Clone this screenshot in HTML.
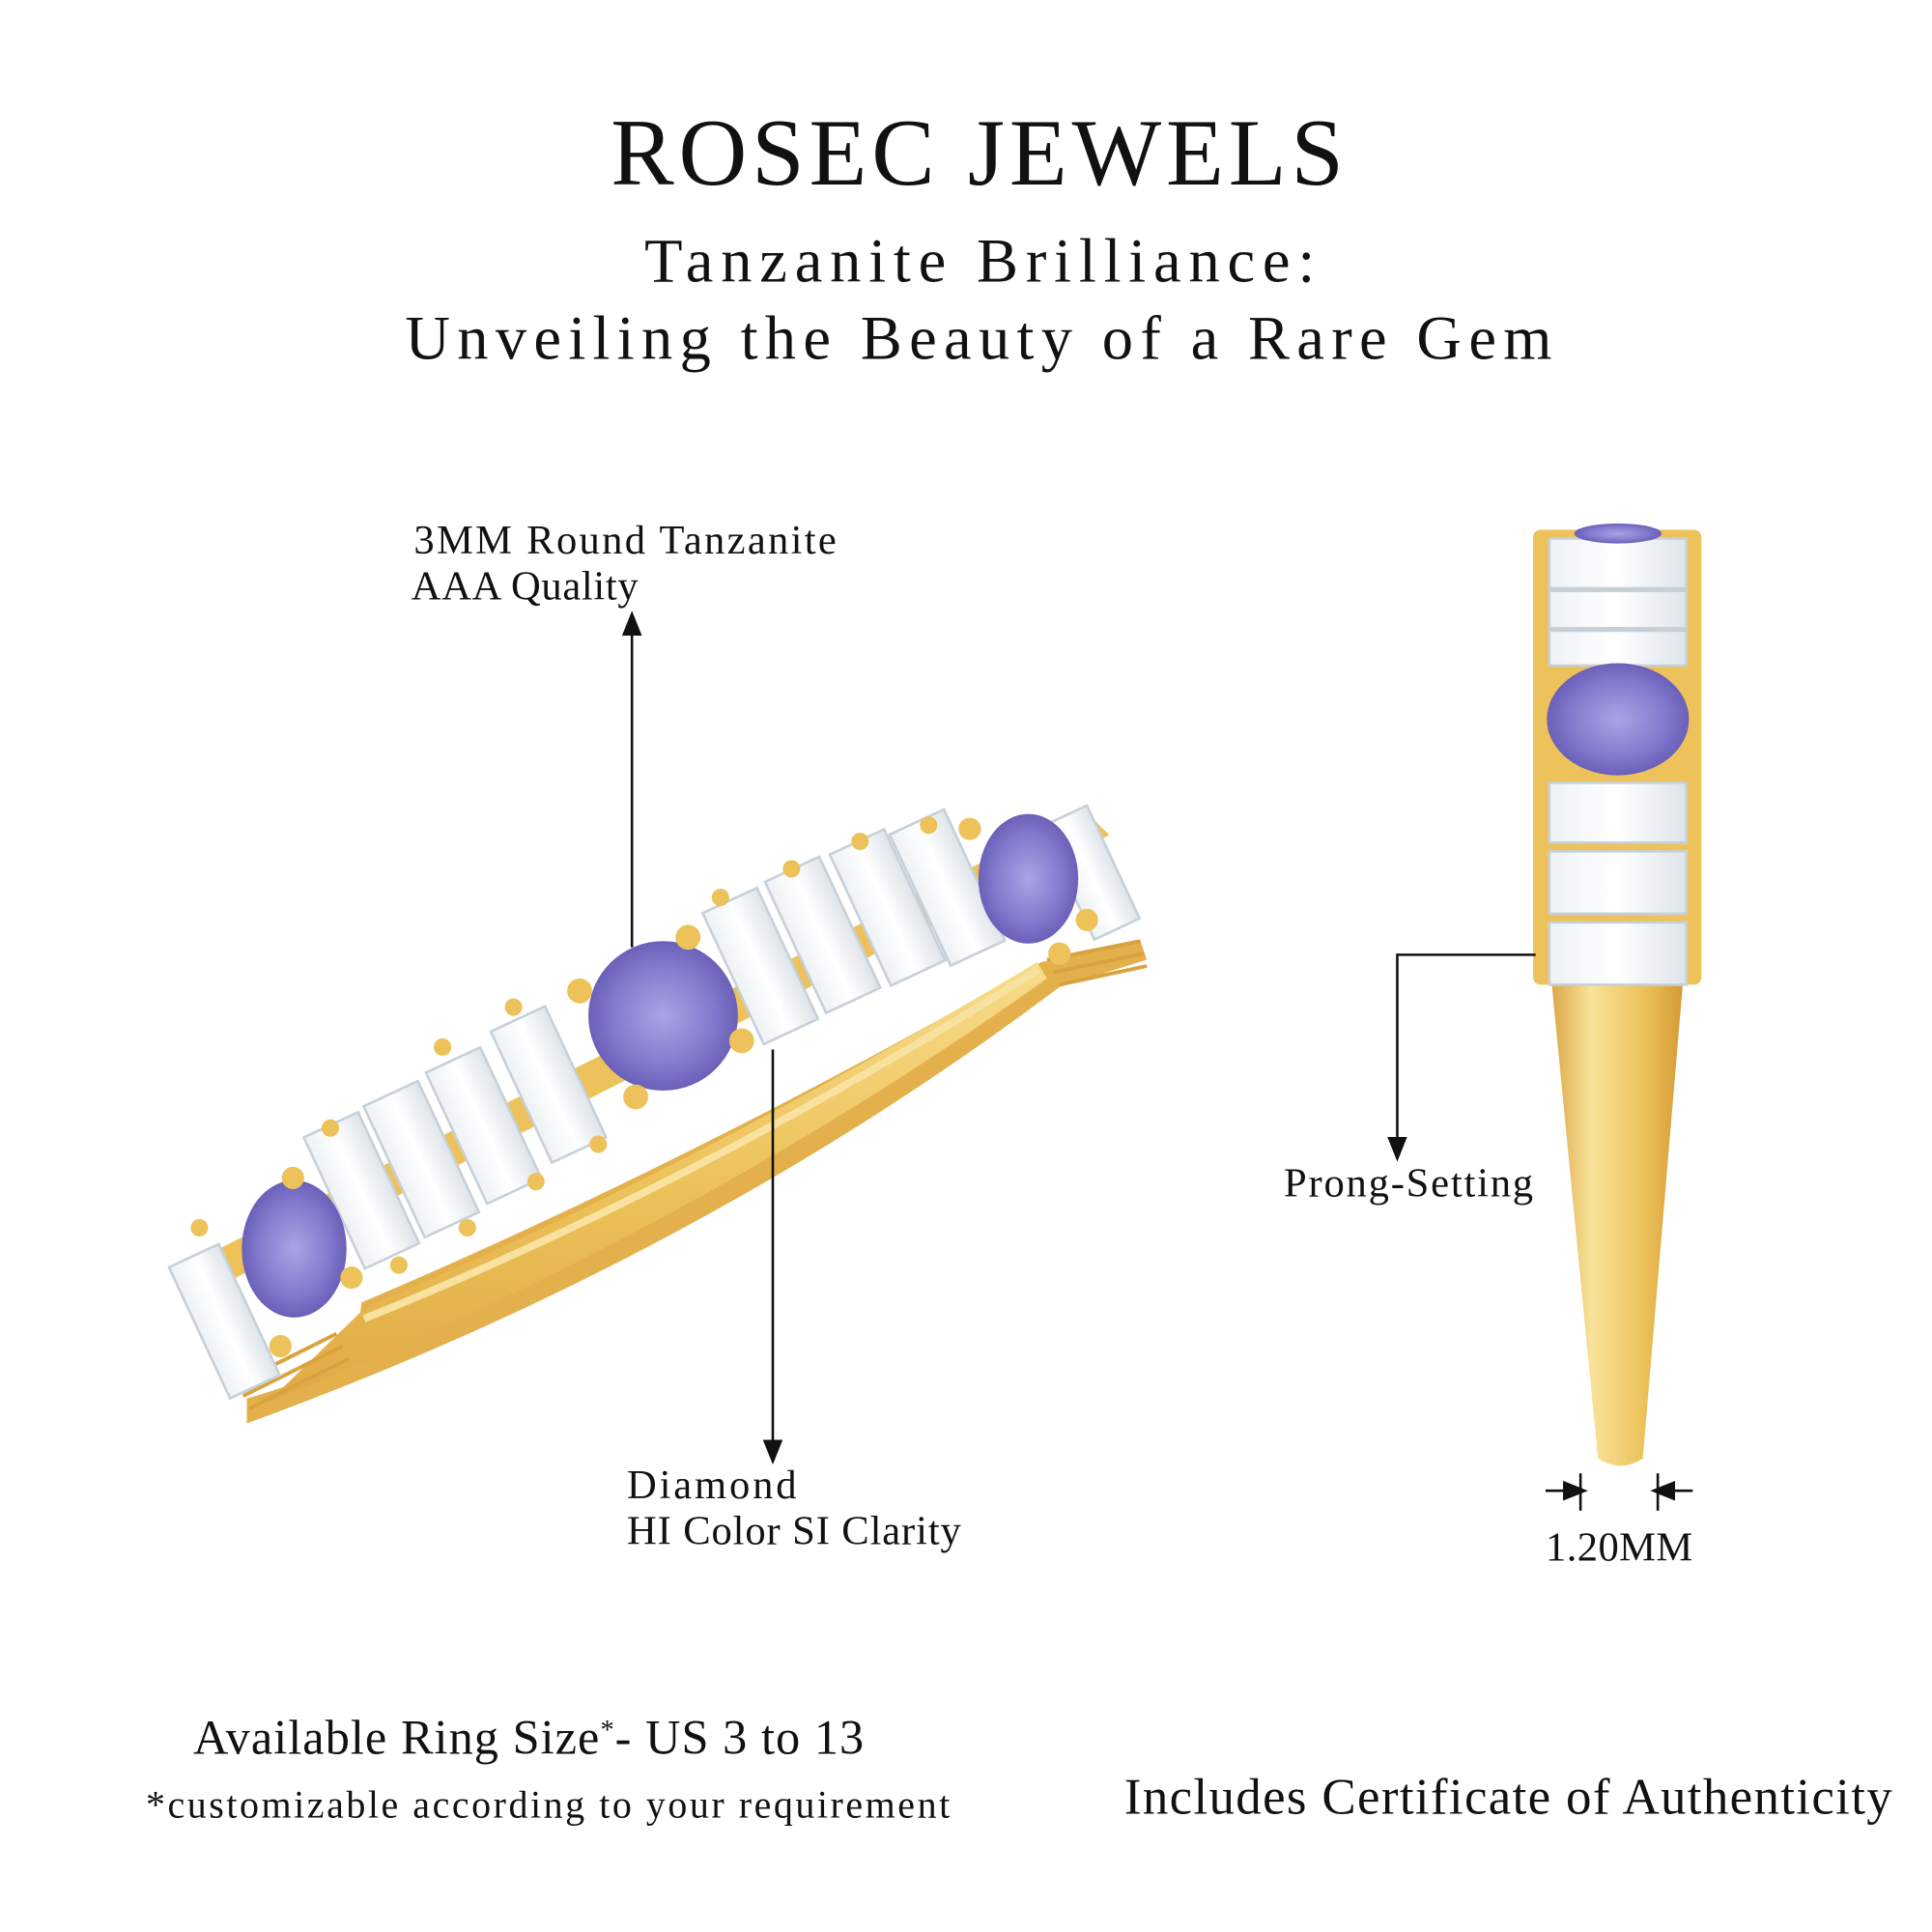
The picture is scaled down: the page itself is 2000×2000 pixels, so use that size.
<!DOCTYPE html>
<html><head><meta charset="utf-8"><style>
html,body{margin:0;padding:0;background:#fff;}
svg{display:block;}
text{font-family:"Liberation Serif",serif;fill:#111;}
</style></head><body>
<svg width="2000" height="2000" viewBox="0 0 1550 1550" xmlns="http://www.w3.org/2000/svg">
<defs>
<linearGradient id="gold" x1="0" y1="0" x2="0" y2="1"><stop offset="0" stop-color="#f7dc8a"/><stop offset="0.5" stop-color="#edc25a"/><stop offset="1" stop-color="#e0aa45"/></linearGradient>
<linearGradient id="goldv" x1="0" y1="0" x2="1" y2="0"><stop offset="0" stop-color="#dba848"/><stop offset="0.3" stop-color="#f9e29a"/><stop offset="0.7" stop-color="#edc25a"/><stop offset="1" stop-color="#d49a35"/></linearGradient>
<radialGradient id="tz"><stop offset="0" stop-color="#a9a4e6"/><stop offset="0.7" stop-color="#8078cc"/><stop offset="1" stop-color="#6a60b8"/></radialGradient>
<linearGradient id="bag" x1="0" y1="0" x2="1" y2="0"><stop offset="0" stop-color="#eef2f5"/><stop offset="0.5" stop-color="#ffffff"/><stop offset="1" stop-color="#dde4ea"/></linearGradient>
<marker id="ar" markerWidth="10" markerHeight="10" refX="5" refY="5" orient="auto"><path d="M0,1 L10,5 L0,9 z" fill="#111"/></marker>
</defs>

<text x="490" y="148" font-size="76" textLength="588" lengthAdjust="spacing">ROSEC JEWELS</text>
<text x="517" y="226" font-size="50" textLength="538" lengthAdjust="spacing">Tanzanite Brilliance:</text>
<text x="325" y="288" font-size="50" textLength="920" lengthAdjust="spacing">Unveiling the Beauty of a Rare Gem</text>

<!-- left ring band -->
<path d="M198,1142 Q560,1010 850,792 L920,770 L915,755 L835,772 Q560,930 290,1045 L285,1090 Q240,1110 198,1122 Z" fill="#e3b04c"/>
<path d="M215,1125 Q560,985 840,785 L832,772 Q560,935 292,1050 Z" fill="url(#gold)"/>
<path d="M292,1058 Q560,950 833,778" stroke="#f8e2a0" stroke-width="6" fill="none"/>
<path d="M140,1020 L150,1045 L890,670 L870,650 Z" fill="#edc25a"/>
<g stroke="#d9a23f" stroke-width="3">
<line x1="190" y1="1110" x2="270" y2="1070"/><line x1="195" y1="1120" x2="275" y2="1080"/><line x1="200" y1="1130" x2="280" y2="1090"/>
<line x1="840" y1="770" x2="915" y2="755"/><line x1="845" y1="780" x2="918" y2="765"/><line x1="850" y1="790" x2="920" y2="775"/>
</g>
<!-- baguettes -->
<g stroke="#c6d0d8" stroke-width="2" fill="url(#bag)">
<g transform="translate(180,1060) rotate(-25)"><rect x="-22" y="-58" width="44" height="116"/></g>
<g transform="translate(290,955) rotate(-25)"><rect x="-24" y="-58" width="48" height="116"/></g>
<g transform="translate(338,930) rotate(-25)"><rect x="-24" y="-58" width="48" height="116"/></g>
<g transform="translate(388,903) rotate(-25)"><rect x="-24" y="-58" width="48" height="116"/></g>
<g transform="translate(440,870) rotate(-25)"><rect x="-24" y="-58" width="48" height="116"/></g>
<g transform="translate(610,775) rotate(-25)"><rect x="-24" y="-58" width="48" height="116"/></g>
<g transform="translate(660,750) rotate(-25)"><rect x="-24" y="-58" width="48" height="116"/></g>
<g transform="translate(712,728) rotate(-25)"><rect x="-24" y="-58" width="48" height="116"/></g>
<g transform="translate(760,712) rotate(-25)"><rect x="-24" y="-58" width="48" height="116"/></g>
<g transform="translate(875,700) rotate(-25)"><rect x="-20" y="-50" width="40" height="100"/></g>
</g>
<ellipse cx="236" cy="1002" rx="42" ry="55" fill="url(#tz)"/>
<circle cx="532" cy="815" r="60" fill="url(#tz)"/>
<ellipse cx="825" cy="705" rx="40" ry="52" fill="url(#tz)"/>
<g fill="#edc25a">
<circle cx="235" cy="945" r="9"/><circle cx="282" cy="1025" r="9"/><circle cx="225" cy="1080" r="9"/><circle cx="160" cy="985" r="7"/>
<circle cx="465" cy="795" r="10"/><circle cx="552" cy="752" r="10"/><circle cx="595" cy="835" r="10"/><circle cx="510" cy="880" r="10"/>
<circle cx="778" cy="665" r="9"/><circle cx="872" cy="738" r="9"/><circle cx="850" cy="765" r="9"/>
<circle cx="265" cy="905" r="7"/><circle cx="355" cy="840" r="7"/><circle cx="412" cy="808" r="7"/><circle cx="578" cy="720" r="7"/><circle cx="635" cy="697" r="7"/><circle cx="690" cy="675" r="7"/><circle cx="745" cy="662" r="7"/>
<circle cx="480" cy="918" r="7"/><circle cx="430" cy="948" r="7"/><circle cx="375" cy="985" r="7"/><circle cx="320" cy="1015" r="7"/>
</g>

<!-- right side view -->
<path d="M1245,790 L1350,790 L1318,1170 Q1300,1182 1282,1170 Z" fill="url(#goldv)"/>
<rect x="1230" y="425" width="135" height="365" fill="#edc25a" rx="6"/>
<g stroke="#c6d0d8" stroke-width="2" fill="url(#bag)">
<rect x="1243" y="432" width="110" height="40"/>
<rect x="1243" y="474" width="110" height="30"/>
<rect x="1243" y="506" width="110" height="28"/>
<rect x="1243" y="628" width="110" height="48"/>
<rect x="1243" y="683" width="110" height="50"/>
<rect x="1243" y="740" width="110" height="50"/>
</g>
<ellipse cx="1298" cy="428" rx="35" ry="8" fill="url(#tz)"/>
<ellipse cx="1298" cy="577" rx="57" ry="45" fill="url(#tz)"/>

<!-- connectors -->
<g stroke="#111" stroke-width="2" fill="none">
<line x1="507" y1="760" x2="507" y2="500" marker-end="url(#ar)"/>
<line x1="620" y1="842" x2="620" y2="1165" marker-end="url(#ar)"/>
<polyline points="1232,766 1121,766 1121,922" marker-end="url(#ar)"/>
<line x1="1240" y1="1196" x2="1264" y2="1196" marker-end="url(#ar)"/>
<line x1="1268" y1="1182" x2="1268" y2="1212"/>
<line x1="1358" y1="1196" x2="1334" y2="1196" marker-end="url(#ar)"/>
<line x1="1330" y1="1182" x2="1330" y2="1212"/>
</g>

<text x="332" y="444" font-size="33" textLength="339" lengthAdjust="spacing">3MM Round Tanzanite</text>
<text x="330" y="481" font-size="33" textLength="182" lengthAdjust="spacing">AAA Quality</text>
<text x="503" y="1202" font-size="33" textLength="136" lengthAdjust="spacing">Diamond</text>
<text x="503" y="1239" font-size="33" textLength="268" lengthAdjust="spacing">HI Color SI Clarity</text>
<text x="1030" y="960" font-size="33" textLength="200" lengthAdjust="spacing">Prong-Setting</text>
<text x="1240" y="1252" font-size="33" textLength="118" lengthAdjust="spacing">1.20MM</text>
<text x="155" y="1407" font-size="39" textLength="538" lengthAdjust="spacing">Available Ring Size<tspan font-size="22" dy="-12">*</tspan><tspan dy="12">- US 3 to 13</tspan></text>
<text x="117" y="1458" font-size="31" textLength="645" lengthAdjust="spacing">*customizable according to your requirement</text>
<text x="902" y="1455" font-size="41" textLength="616" lengthAdjust="spacing">Includes Certificate of Authenticity</text>
</svg>
</body></html>
